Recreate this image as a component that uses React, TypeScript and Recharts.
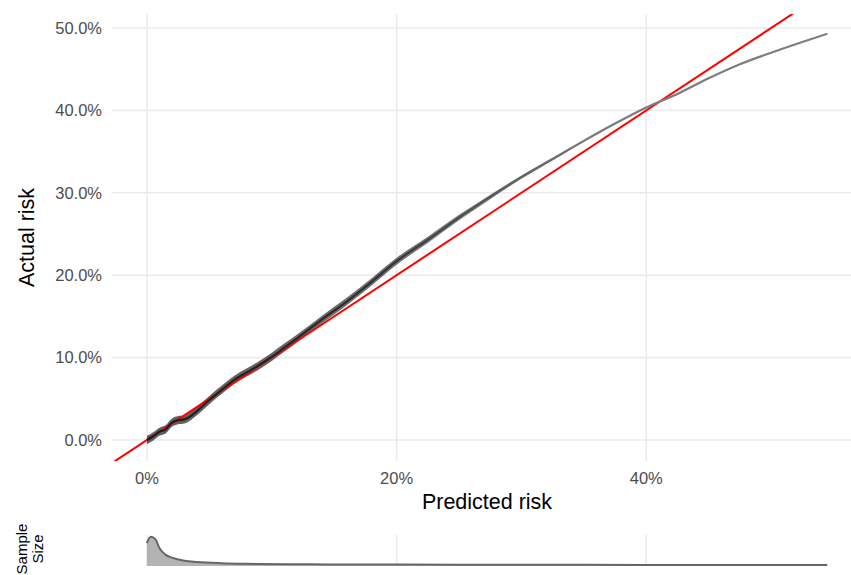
import { ComposedChart, Line, Area, XAxis, YAxis, CartesianGrid } from "recharts";

// calibration curve (predicted risk %, actual risk %)
const PREDICTED = [0, 0.5, 1, 1.5, 2, 2.5, 3, 3.5, 4, 5, 6, 7, 8, 9, 10, 11, 12, 14, 16, 18, 20, 22.5, 25, 27.5, 30, 32.5, 35, 37.5, 40, 42.5, 45, 47.5, 50, 52.5, 54.5];
const ACTUAL = [0, 0.45, 1.0, 1.3, 2.1, 2.4, 2.5, 2.9, 3.5, 4.85, 6.1, 7.3, 8.2, 9.1, 10.1, 11.2, 12.3, 14.6, 16.8, 19.2, 21.7, 24.3, 27.0, 29.5, 31.9, 34.1, 36.3, 38.4, 40.35, 42.0, 43.9, 45.6, 47.0, 48.3, 49.3];
// half width of the confidence band, in % points
const CI_HALF = [0.5, 0.5, 0.5, 0.5, 0.5, 0.5, 0.5, 0.5, 0.5, 0.5, 0.5, 0.5, 0.5, 0.5, 0.5, 0.5, 0.48, 0.46, 0.45, 0.44, 0.42, 0.38, 0.33, 0.27, 0.2, 0.14, 0.1, 0.08, 0.07, 0.07, 0.07, 0.07, 0.07, 0.07, 0.07];

// perfect calibration line y = x
const DIAGONAL = [-5, 60];

// sample size density (bottom strip)
const DENS_X = [0, 0.3, 0.7, 1, 1.5, 2, 3, 4, 6, 8, 12, 20, 30, 40, 54.5];
const DENS_Y = [0.74, 0.94, 0.85, 0.58, 0.36, 0.27, 0.17, 0.13, 0.09, 0.07, 0.055, 0.045, 0.04, 0.035, 0.035];

const X_TICKS = [0, 20, 40];
const Y_TICKS = [0, 10, 20, 30, 40, 50];
const X_DOMAIN: [number, number] = [-2.8, 56.4];
const Y_DOMAIN: [number, number] = [-2.55, 51.7];

const FONT = "'Liberation Sans', Arial, sans-serif";
const GRID = "#ebebeb";

const curveData = PREDICTED.map((x, i) => ({
  x,
  y: ACTUAL[i],
  band: [ACTUAL[i] - CI_HALF[i], ACTUAL[i] + CI_HALF[i]],
}));
const diagData = DIAGONAL.map((v) => ({ x: v, y: v }));
const densityData = DENS_X.map((x, i) => ({ x, n: DENS_Y[i] }));

function YTitle({ viewBox }: any) {
  const cy = viewBox.y + viewBox.height / 2;
  return (
    <text x={34} y={cy} transform={`rotate(-90, 34, ${cy})`} textAnchor="middle"
      fontFamily={FONT} fontSize={21.5} fill="#000">
      Actual risk
    </text>
  );
}

function XTitle() {
  return (
    <text x={487} y={509} textAnchor="middle" fontFamily={FONT} fontSize={21.5} fill="#000">
      Predicted risk
    </text>
  );
}

// coordinates here are inside the bottom strip (which starts at y=520)
function SampleTitle() {
  const cy = 29;
  return (
    <g fontFamily={FONT} fontSize={15} fill="#000" textAnchor="middle">
      <text x={27} y={cy} transform={`rotate(-90, 27, ${cy})`}>Sample</text>
      <text x={43} y={cy} transform={`rotate(-90, 43, ${cy})`}>Size</text>
    </g>
  );
}

export default function App() {
  const tickStyle = { fontFamily: FONT, fontSize: 16.5, fill: "#4d4d4d" };
  return (
    <div style={{ position: "absolute", left: 0, top: 0, width: 851, height: 575, background: "#fff" }}>
      <ComposedChart width={851} height={520} data={curveData} margin={{ top: 14, right: 0, bottom: 0, left: 0 }}>
        <defs>
          <linearGradient id="curveShade" x1="0" y1="0" x2="1" y2="0">
            <stop offset="0" stopColor="#1c1c1c" />
            <stop offset="0.2" stopColor="#252525" />
            <stop offset="0.35" stopColor="#333333" />
            <stop offset="0.5" stopColor="#555555" />
            <stop offset="0.65" stopColor="#7a7a7a" />
            <stop offset="1" stopColor="#808080" />
          </linearGradient>
        </defs>
        <CartesianGrid stroke={GRID} strokeWidth={1.6} syncWithTicks />
        <XAxis dataKey="x" type="number" domain={X_DOMAIN} ticks={X_TICKS} allowDataOverflow
          tickFormatter={(v) => `${v}%`} axisLine={false} tickLine={false} tickSize={0} tickMargin={11}
          height={59} tick={tickStyle} label={<XTitle />} />
        <YAxis type="number" domain={Y_DOMAIN} ticks={Y_TICKS} allowDataOverflow
          tickFormatter={(v) => `${v.toFixed(1)}%`} axisLine={false} tickLine={false} tickSize={0} tickMargin={10}
          width={112} tick={tickStyle} label={<YTitle />} />
        <Line data={diagData} dataKey="y" type="linear" stroke="#ff0000" strokeWidth={2} dot={false}
          activeDot={false} isAnimationActive={false} />
        <Area dataKey="band" type="monotone" stroke="none" fill="url(#curveShade)" fillOpacity={0.7}
          isAnimationActive={false} activeDot={false} />
        <Line dataKey="y" type="monotone" stroke="url(#curveShade)" strokeWidth={2.2} dot={false}
          activeDot={false} isAnimationActive={false} />
      </ComposedChart>
      <ComposedChart width={851} height={55} data={densityData} margin={{ top: 15, right: 0, bottom: 9, left: 0 }}
        style={{ position: "absolute", left: 0, top: 520 }}>
        <CartesianGrid stroke={GRID} strokeWidth={1.6} horizontal={false} syncWithTicks />
        <XAxis dataKey="x" type="number" domain={X_DOMAIN} ticks={X_TICKS} allowDataOverflow hide />
        <YAxis type="number" domain={[0, 1]} width={112} tick={false} axisLine={false} tickLine={false}
          label={<SampleTitle />} />
        <Area dataKey="n" type="monotone" stroke="#666666" strokeWidth={2} fill="#b3b3b3" fillOpacity={1}
          isAnimationActive={false} activeDot={false} />
      </ComposedChart>
    </div>
  );
}
